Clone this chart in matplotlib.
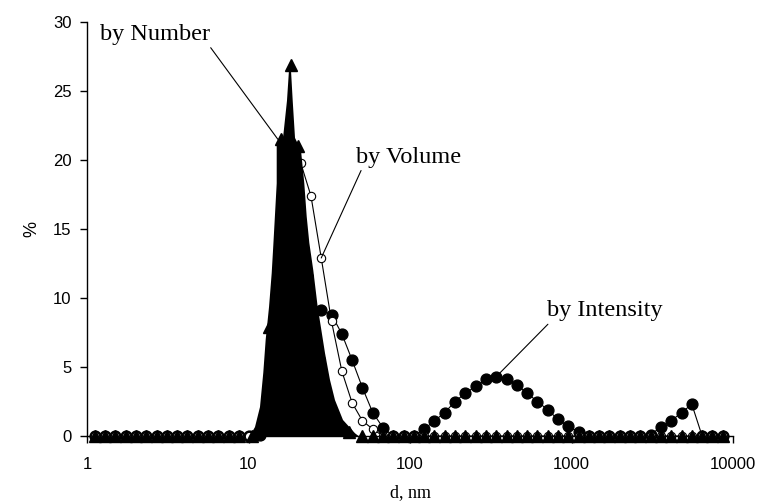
#!/usr/bin/env python
#
# Size distribution (DLS) by number, volume and intensity
#
import matplotlib
matplotlib.use("Agg")
import matplotlib.pyplot as plt

# size classes, nm (volume and intensity)
d_nm = [
    1.117, 1.294, 1.499, 1.736, 2.01, 2.328, 2.696, 3.122, 3.615, 4.187,
    4.849, 5.615, 6.503, 7.531, 8.721, 10.1, 11.7, 13.54, 15.69, 18.17,
    21.04, 24.36, 28.21, 32.67, 37.84, 43.82, 50.75, 58.77, 68.06, 78.82,
    91.28, 105.7, 122.4, 141.8, 164.2, 190.1, 220.2, 255.0, 295.3, 342.0,
    396.1, 458.7, 531.2, 615.1, 712.4, 825.0, 955.4, 1106, 1281, 1484,
    1718, 1990, 2305, 2669, 3091, 3580, 4145, 4801, 5560, 6439,
    7456, 8635,
]

# % by volume
by_volume = [
    0, 0, 0, 0, 0, 0, 0, 0, 0, 0,
    0, 0, 0, 0, 0, 0, 0.4, 4.5, 11.0, 17.0,
    19.8, 17.4, 12.9, 8.3, 4.7, 2.4, 1.1, 0.5, 0, 0,
    0, 0, 0, 0, 0, 0, 0, 0, 0, 0,
    0, 0, 0, 0, 0, 0, 0, 0, 0, 0,
    0, 0, 0, 0, 0, 0, 0, 0, 0, 0,
    0, 0,
]

# % by intensity
by_intensity = [
    0, 0, 0, 0, 0, 0, 0, 0, 0, 0,
    0, 0, 0, 0, 0, 0, 0.1, 0.4, 1.3, 3.2,
    6.0, 8.4, 9.1, 8.8, 7.4, 5.5, 3.5, 1.7, 0.6, 0,
    0, 0, 0.5, 1.1, 1.7, 2.5, 3.1, 3.6, 4.1, 4.3,
    4.1, 3.7, 3.1, 2.5, 1.9, 1.2, 0.7, 0.3, 0, 0,
    0, 0, 0, 0, 0.1, 0.65, 1.1, 1.7, 2.3, 0,
    0, 0,
]

# number distribution has its own points
d_number = [
    1.117, 1.294, 1.499, 1.736, 2.01, 2.328, 2.696, 3.122, 3.615, 4.187,
    4.849, 5.615, 6.503, 7.531, 8.721, 10.5, 13.4, 15.89, 18.2, 20.34,
    23.1, 27.5, 31.5, 35.3, 41.7, 50.75, 58.77, 68.06, 78.82, 91.28,
    105.7, 122.4, 141.8, 164.2, 190.1, 220.2, 255.0, 295.3, 342.0, 396.1,
    458.7, 531.2, 615.1, 712.4, 825.0, 955.4, 1106, 1281, 1484, 1718,
    1990, 2305, 2669, 3091, 3580, 4145, 4801, 5560, 6439, 7456,
    8635,
]
by_number = [
    0, 0, 0, 0, 0, 0, 0, 0, 0, 0,
    0, 0, 0, 0, 0, 0, 7.9, 21.5, 26.9, 21.0,
    12.0, 6.0, 2.6, 1.1, 0.3, 0, 0, 0, 0, 0,
    0, 0, 0, 0, 0, 0, 0, 0, 0, 0,
    0, 0, 0, 0, 0, 0, 0, 0, 0, 0,
    0, 0, 0, 0, 0, 0, 0, 0, 0, 0,
    0,
]

# outline of the black filled number area
area_d = [
    10.2, 10.97, 11.78, 12.35, 12.78, 13.4, 13.92, 14.24, 14.95, 14.95,
    16.36, 17.31, 17.81, 18.07, 18.33, 18.78, 19.41, 21.14, 22.16, 22.93,
    23.8, 25.19, 26.82, 29.77, 31.96, 34.32, 38.47, 45.64, 48.0,
]
area_pct = [
    0, 0.65, 2.1, 4.6, 7.0, 9.35, 11.8, 13.8, 18.3, 21.2,
    21.6, 24.3, 26.5, 27.0, 26.5, 24.3, 21.6, 20.7, 18.3, 15.9,
    14.0, 12.0, 9.35, 6.0, 4.06, 2.6, 1.16, 0.2, 0,
]

xticks = [1, 10, 100, 1000, 10000]
xticklabels = ["1", "10", "100", "1000", "10000"]
yticks = [0, 5, 10, 15, 20, 25, 30]

SERIF = "Liberation Serif"
SANS = "Liberation Sans"

# ==============================================================================
# Plotting
# ==============================================================================

fig = plt.figure(figsize=(7.58, 5.01), dpi=100)
ax = fig.add_axes([87 / 758, 1 - 436 / 501, (733 - 87) / 758, (436 - 22) / 501])

ax.plot(d_nm, by_intensity, "-o", color="black", lw=0.8,
        markersize=7.8, markerfacecolor="black", markeredgecolor="black",
        zorder=2, clip_on=False)
ax.plot(d_nm, by_volume, "-o", color="black", lw=0.8,
        markersize=6.0, markerfacecolor="white", markeredgecolor="black",
        markeredgewidth=0.8, zorder=3, clip_on=False)
ax.fill(area_d, area_pct, color="black", lw=0, zorder=4)
ax.plot(d_number, by_number, "^", color="black",
        markersize=8, markerfacecolor="black", markeredgecolor="black",
        zorder=5, clip_on=False)

ax.set_xscale("log")
ax.set_xlim(1, 10000)
ax.set_ylim(0, 30)
ax.set_xticks(xticks)
ax.set_xticklabels(xticklabels)
ax.minorticks_off()
ax.set_yticks(yticks)

for side in ["top", "right"]:
    ax.spines[side].set_visible(False)
for side in ["left", "bottom"]:
    ax.spines[side].set_linewidth(1.0)

ax.tick_params(direction="out", length=5, width=1.0, labelsize=12, pad=6)
for lab in ax.get_xticklabels() + ax.get_yticklabels():
    lab.set_fontfamily(SANS)
ax.tick_params(axis="x", pad=10)

ax.set_xlabel("d, nm", fontfamily=SERIF, fontsize=13, labelpad=9)
ax.set_ylabel("%", fontfamily=SANS, fontsize=13, labelpad=9)

# labels with leader lines
ax.annotate("by Number", xy=(15.2, 21.5), xytext=(2.64, 29.1),
            ha="center", va="center", fontfamily=SERIF, fontsize=17.5,
            arrowprops=dict(arrowstyle="-", color="black", lw=0.8,
                            shrinkA=0, shrinkB=0, relpos=(0.98, 0.05)),
            zorder=6)
ax.annotate("by Volume", xy=(28.21, 12.9), xytext=(98, 20.2),
            ha="center", va="center", fontfamily=SERIF, fontsize=17.5,
            arrowprops=dict(arrowstyle="-", color="black", lw=0.8,
                            shrinkA=0, shrinkB=0, relpos=(0.06, 0.0)),
            zorder=6)
ax.annotate("by Intensity", xy=(342.0, 4.3), xytext=(1612, 9.06),
            ha="center", va="center", fontfamily=SERIF, fontsize=17.5,
            arrowprops=dict(arrowstyle="-", color="black", lw=0.8,
                            shrinkA=0, shrinkB=0, relpos=(0.03, 0.0)),
            zorder=6)

fig.savefig("out.png", dpi=100)
